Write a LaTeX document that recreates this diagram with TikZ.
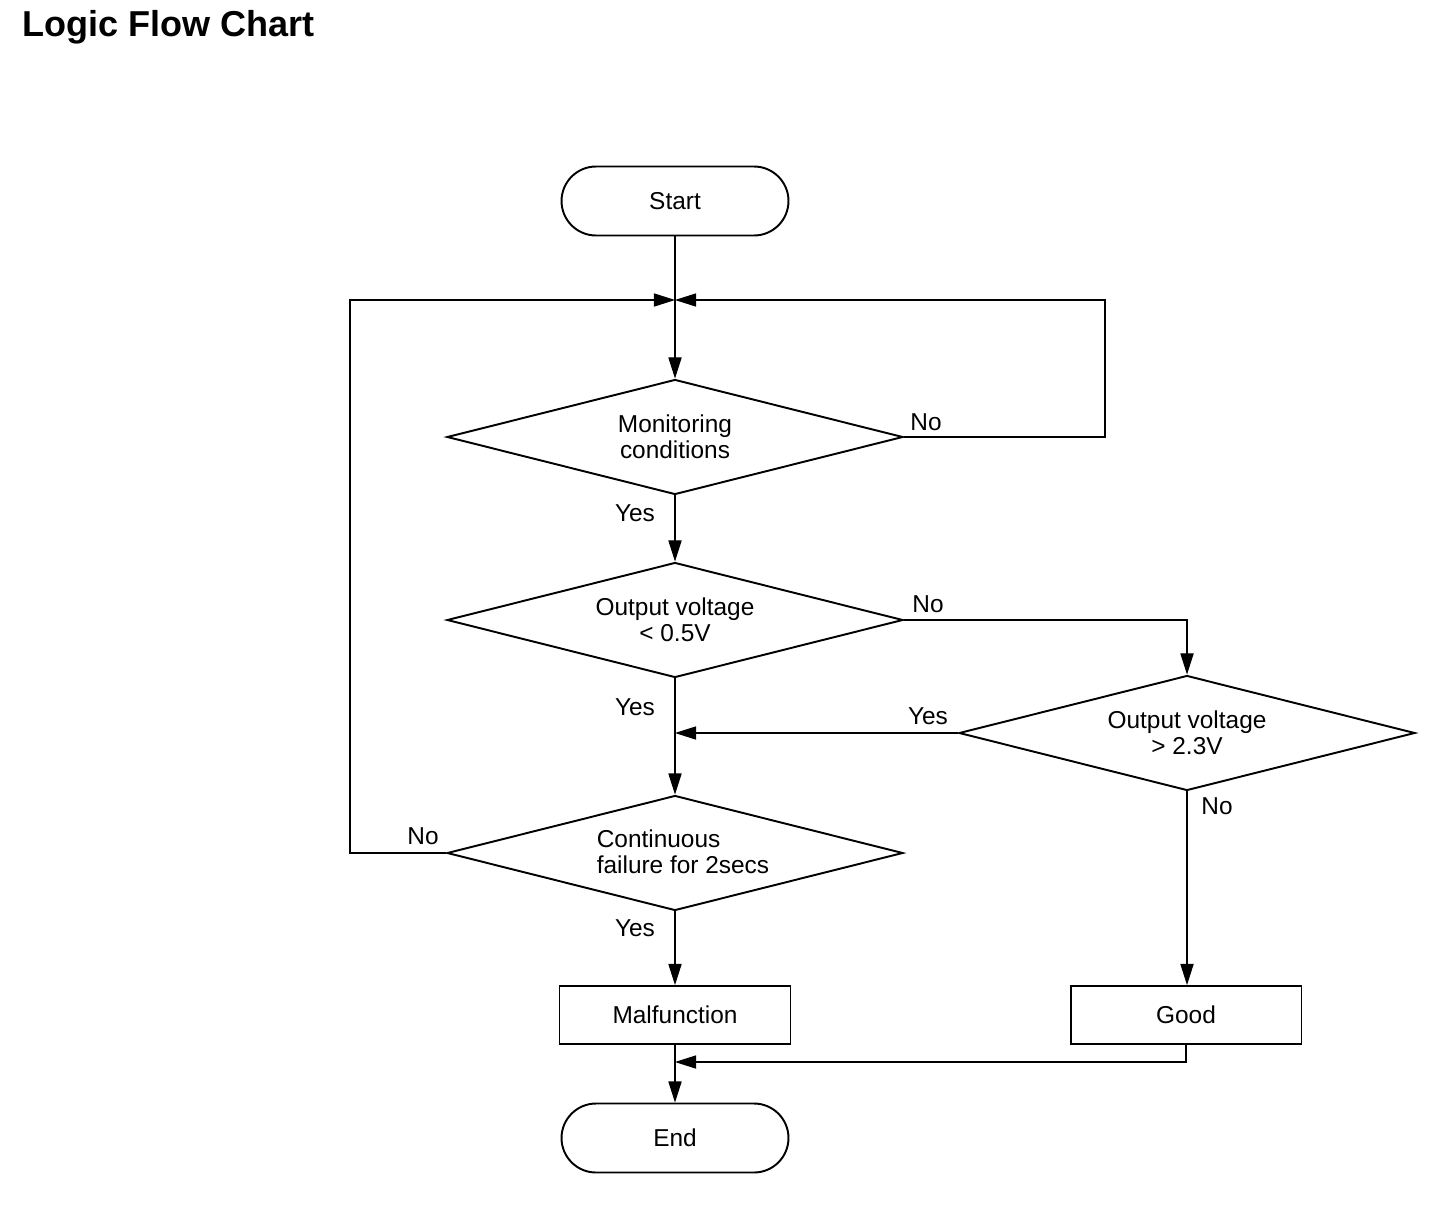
\documentclass[tikz,border=0pt]{standalone}
\usepackage{fontspec}
\setmainfont{Liberation Sans}
\usetikzlibrary{shapes.geometric,shapes.misc,arrows.meta}
\begin{document}
\begin{tikzpicture}[x=0.02cm,y=-0.02cm,
  txt/.style={font=\fontsize{13.9}{14.7}\selectfont, align=center},
  term/.style={rounded rectangle, draw, line width=1.1pt, minimum width=4.54cm, minimum height=1.38cm, inner sep=0pt, txt},
  dec/.style={diamond, draw, line width=1.1pt, aspect=3.965, minimum width=9.12cm, minimum height=2.3cm, inner sep=0pt, txt},
  proc/.style={rectangle, draw, line width=1.1pt, minimum width=4.62cm, minimum height=1.16cm, inner sep=0pt, txt},
  conn/.style={line width=0.6pt},
  arr/.style={conn, -{Triangle[length=12pt,width=7.5pt]}},
  lab/.style={txt, inner sep=0pt}]
\useasboundingbox (0,0) rectangle (1456,1210);
\node[anchor=west, font=\fontsize{20.5}{22}\selectfont\bfseries, inner sep=0pt] (title) at (22,27) {Logic Flow Chart};

\node[term] (start) at (675,201) {Start};
\coordinate (j) at (675,300);
\node[dec] (d1) at (675,437) {Monitoring\\conditions};
\node[dec] (d2) at (675,620) {Output voltage\\\textless{} 0.5V};
\node[dec] (d3) at (1187,733) {Output voltage\\\textgreater{} 2.3V};
\node[dec] (d4) at (675,853) {};
\node[lab, align=left] (d4t) at (683,852) {Continuous\\failure for 2secs};
\node[proc] (malf) at (675,1015) {Malfunction};
\node[proc] (good) at (1186,1015) {Good};
\node[term] (end) at (675,1138) {End};
\coordinate (m) at (675,733);
\coordinate (e) at (675,1062);
\coordinate (r1) at (1105,437);
\coordinate (l1) at (350,853);

\draw[conn] (start.south) -- (j);
\draw[arr] (j) -- (d1.north);
\draw[arr] (d1.east) -- (r1) |- (j);
\draw[arr] (d4.west) -- (l1) |- (j);
\draw[arr] (d1.south) -- (d2.north);
\draw[arr] (d2.east) -| (d3.north);
\draw[arr] (d3.west) -- (m);
\draw[arr] (d2.south) -- (d4.north);
\draw[arr] (d3.south) -- (d3.south |- good.north);
\draw[arr] (d4.south) -- (malf.north);
\draw[arr] (malf.south) -- (end.north);
\draw[arr] (good.south) |- (e);

\node[lab] (n1) at (926,422) {No};
\node[lab] (y1) at (635,513) {Yes};
\node[lab] (n2) at (928,604) {No};
\node[lab] (y2) at (635,707) {Yes};
\node[lab] (y3) at (928,716) {Yes};
\node[lab] (n3) at (1217,806) {No};
\node[lab] (n4) at (423,836) {No};
\node[lab] (y4) at (635,928) {Yes};
\end{tikzpicture}
\end{document}
